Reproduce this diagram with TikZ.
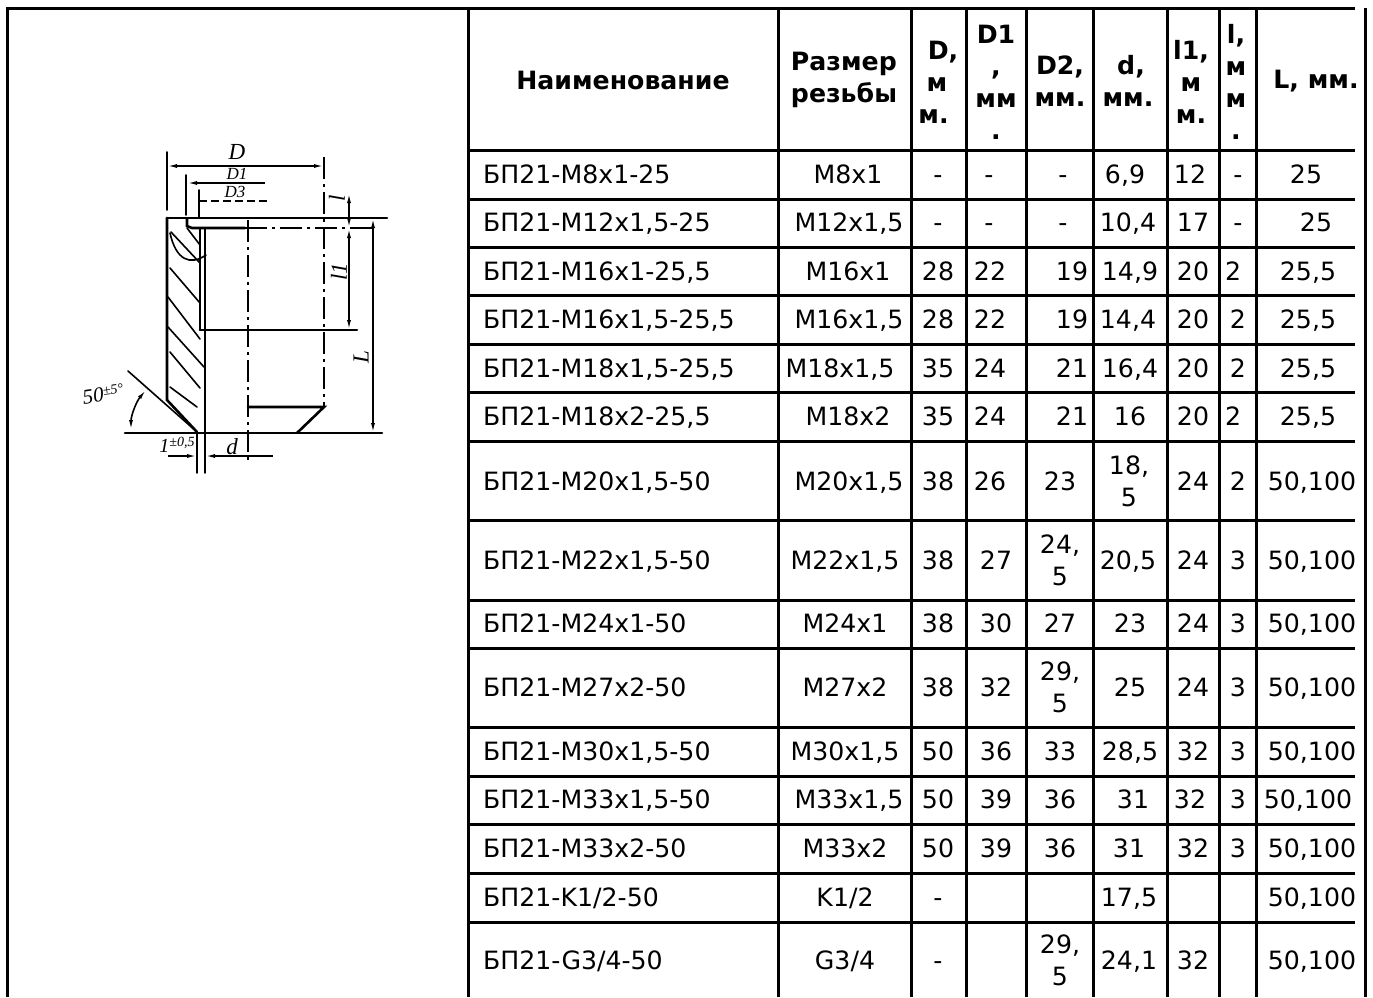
\documentclass[tikz,border=0pt]{standalone}
\usepackage{fontspec}
\setmainfont{DejaVu Sans}
\newfontfamily\scanfont{Liberation Serif}
\usetikzlibrary{arrows.meta}
\tikzset{
  grid/.style={line width=3pt},
  cell/.style={font=\fontsize{25.2}{32}\selectfont, inner sep=0pt, anchor=base},
  namecell/.style={cell, anchor=base west},
  wrapcell/.style={font=\fontsize{25.2}{32}\selectfont, inner sep=0pt, align=center},
  headcell/.style={font=\fontsize{25.2}{32}\selectfont\bfseries, inner sep=0pt, align=center},
  contour/.style={line width=2.6pt, line cap=round},
  thin line/.style={line width=1.6pt, line cap=round},
  centre line/.style={line width=1.6pt, dash pattern=on 22pt off 5pt on 3pt off 5pt},
  dim/.style={line width=1.6pt, {Latex[length=10pt,width=4pt]}-{Latex[length=10pt,width=4pt]}},
  sketch/.style={font=\fontsize{23}{23}\selectfont\scanfont\itshape, inner sep=0pt},
  small sketch/.style={font=\fontsize{17}{17}\selectfont\scanfont\itshape, inner sep=0pt}
}

\begin{document}
\begin{tikzpicture}[x=1pt, y=-1pt]
  \useasboundingbox (0,0) rectangle (1373,997);
  % table frame
  \draw[grid] (7,997) -- (7,8) -- (1355,8);
  \draw[grid] (1365,8) -- (1365,997);
  \foreach \x in {468,778,911,966,1026,1093,1167,1219,1256}
    \draw[grid] (\x,8) -- (\x,997);
  \foreach \y in {150,199,247,295,344,392,441,520,600,648,727,776,824,873,922}
    \draw[grid] (468,\y) -- (1355,\y);

  % header
  \node[headcell] (hname) at (623,80) {Наименование};
  \node[headcell, align=left] (hsize) at (844,80) {Размер\\резьбы};
  \node[headcell] (hD) at (937,82) {\hspace*{12pt}D,\\м\\м.\hspace*{7pt}};
  \node[headcell] (hDa) at (996,82) {D1\\,\\мм\\.};
  \node[headcell] (hDb) at (1060,81) {D2,\\мм.};
  \node[headcell] (hd) at (1128,81) {\hspace*{6pt}d,\\мм.};
  \node[headcell] (hla) at (1191,82) {l1,\\м\\м.};
  \node[headcell] (hl) at (1236,82) {l,\\м\\м\\.};
  \node[headcell] (hL) at (1316,81) {L, мм.};

  % names
  \foreach \y/\t [count=\i] in {174/БП21-M8x1-25, 222/БП21-M12x1{,}5-25, 271/БП21-M16x1-25{,}5,
      319/БП21-M16x1{,}5-25{,}5, 368/БП21-M18x1{,}5-25{,}5, 416/БП21-M18x2-25{,}5,
      481/БП21-M20x1{,}5-50, 560/БП21-M22x1{,}5-50, 623/БП21-M24x1-50, 687/БП21-M27x2-50,
      751/БП21-M30x1{,}5-50, 799/БП21-M33x1{,}5-50, 848/БП21-M33x2-50, 897/{БП21-K1/2-50}, 960/{БП21-G3/4-50}}
    \node[namecell] (name\i) at (483,\y+9) {\t};

  % thread sizes
  \foreach \x/\y/\t [count=\i] in {848/174/M8x1, 849/222/M12x1{,}5, 848/271/M16x1, 849/319/M16x1{,}5,
      840/368/M18x1{,}5, 848/416/M18x2, 849/481/M20x1{,}5, 845/560/M22x1{,}5, 845/623/M24x1, 845/687/M27x2,
      845/751/M30x1{,}5, 849/799/M33x1{,}5, 845/848/M33x2, 845/897/{K1/2}, 845/960/{G3/4}}
    \node[cell] (size\i) at (\x,\y+9) {\t};

  % D
  \foreach \y/\t [count=\i] in {174/-, 222/-, 271/28, 319/28, 368/35, 416/35, 481/38, 560/38,
      623/38, 687/38, 751/50, 799/50, 848/50, 897/-, 960/-}
    \node[cell] (dia\i) at (938,\y+9) {\t};

  % D1
  \foreach \x/\y/\t [count=\i] in {989/174/-, 989/222/-, 990/271/22, 990/319/22, 990/368/24, 990/416/24,
      990/481/26, 996/560/27, 996/623/30, 996/687/32, 996/751/36, 996/799/39, 996/848/39}
    \node[cell] (diaa\i) at (\x,\y+9) {\t};

  % D2
  \foreach \x/\y/\t [count=\i] in {1063/174/-, 1063/222/-, 1072/271/19, 1072/319/19, 1072/368/21, 1072/416/21,
      1060/481/23, 1060/623/27, 1060/751/33, 1060/799/36, 1060/848/36}
    \node[cell] (diab\i) at (\x,\y+9) {\t};
  \node[wrapcell] (diab12) at (1060,560) {24,\\5};
  \node[wrapcell] (diab13) at (1060,687) {29,\\5};
  \node[wrapcell] (diab14) at (1060,960) {29,\\5};

  % d
  \foreach \x/\y/\t [count=\i] in {1125/174/{6,9}, 1128/222/{10,4}, 1130/271/{14,9}, 1128/319/{14,4},
      1130/368/{16,4}, 1130/416/16, 1128/560/{20,5}, 1130/623/23, 1130/687/25, 1130/751/{28,5},
      1133/799/31, 1129/848/31, 1129/897/{17,5}, 1129/960/{24,1}}
    \node[cell] (dint\i) at (\x,\y+9) {\t};
  \node[wrapcell] (dint15) at (1129,481) {18,\\5};

  % l1
  \foreach \x/\y/\t [count=\i] in {1190/174/12, 1193/222/17, 1193/271/20, 1193/319/20, 1193/368/20, 1193/416/20,
      1193/481/24, 1193/560/24, 1193/623/24, 1193/687/24, 1193/751/32, 1190/799/32, 1193/848/32, 1193/960/32}
    \node[cell] (lena\i) at (\x,\y+9) {\t};

  % l
  \foreach \x/\y/\t [count=\i] in {1238/174/-, 1238/222/-, 1233/271/2, 1238/319/2, 1238/368/2, 1233/416/2,
      1238/481/2, 1238/560/3, 1238/623/3, 1238/687/3, 1238/751/3, 1238/799/3, 1238/848/3}
    \node[cell] (lenb\i) at (\x,\y+9) {\t};

  % L
  \foreach \x/\y/\t [count=\i] in {1306/174/25, 1316/222/25, 1308/271/{25,5}, 1308/319/{25,5}, 1308/368/{25,5},
      1308/416/{25,5}, 1312/481/{50,100}, 1312/560/{50,100}, 1312/623/{50,100}, 1312/687/{50,100}, 1312/751/{50,100},
      1308/799/{50,100}, 1312/848/{50,100}, 1312/897/{50,100}, 1312/960/{50,100}}
    \node[cell] (lenc\i) at (\x,\y+9) {\t};

  % sleeve section
  \draw[contour] (125,433) -- (382,433);
  \draw[contour] (167,218) -- (387,218);
  \draw[contour] (167,218) -- (167,400) -- (197,432);
  \draw[contour] (205,228) -- (205,433);
  \draw[thin line] (200,228) -- (200,330);
  \draw[contour] (187,219) -- (187,226) -- (192,228) -- (245,228);
  \draw[centre line] (245,228) -- (372,228);
  \draw[contour] (200,330) -- (357,330);
  \draw[contour] (248,407) -- (324,407) -- (297,433);
  \draw[centre line] (248,220) -- (248,463);
  \draw[centre line] (324,157) -- (324,407);
  % hatching
  \foreach \xa/\ya/\xb/\yb in {171/232/200/263, 170/268/200/303, 168/297/200/339, 168/327/204/367,
      170/352/200/388, 170/387/197/407, 187/228/200/245}
    \draw[thin line] (\xa,\ya) -- (\xb,\yb);
  \draw[thin line] (170,233) .. controls (176,260) and (190,266) .. (206,255);
  % dimensions
  \draw[thin line] (167,152) -- (167,210);
  \draw[thin line] (186,175) -- (186,215);
  \draw[thin line] (199,190) -- (199,217);
  \draw[dim] (167,166) -- (324,166);
  \draw[line width=1.6pt, {Latex[length=10pt,width=4pt]}-] (187,183) -- (265,183);
  \draw[line width=1.6pt, dash pattern=on 8pt off 4pt] (199,201) -- (268,201);
  \draw[dim] (349,193) -- (349,228);
  \draw[dim] (349,228) -- (349,330);
  \draw[dim] (373,218) -- (373,433);
  \draw[thin line] (128,371) -- (197,432);
  \draw[thin line] (197,433) -- (197,473);
  \draw[thin line] (205,433) -- (205,473);
  \draw[line width=1.6pt, -{Latex[length=10pt,width=4pt]}] (168,456) -- (197,456);
  \draw[line width=1.6pt, {Latex[length=10pt,width=4pt]}-] (205,456) -- (273,456);
  \draw[dim] (146,390) .. controls (136,402) and (131,416) .. (131,430);
  % sketch labels
  \node[sketch] (labD) at (237,152) {D};
  \node[small sketch] (labDa) at (237,174) {D1};
  \node[small sketch] (labDb) at (235,192) {D3};
  \node[sketch, rotate=90] (labl) at (337,198) {l};
  \node[sketch, rotate=90] (lablb) at (339,272) {l1};
  \node[sketch, rotate=90] (labL) at (361,357) {L};
  \node[sketch] (labd) at (232,447) {d};
  \node[font=\fontsize{20}{20}\selectfont\scanfont\itshape, inner sep=0pt] (labtol) at (177,445) {1\raisebox{6pt}{\fontsize{14}{14}\selectfont ±0,5}};
  \node[font=\fontsize{21}{21}\selectfont\scanfont\itshape, inner sep=0pt, rotate=8] (labang) at (103,394) {50\raisebox{6pt}{\fontsize{14}{14}\selectfont ±5°}};
\end{tikzpicture}
\end{document}
